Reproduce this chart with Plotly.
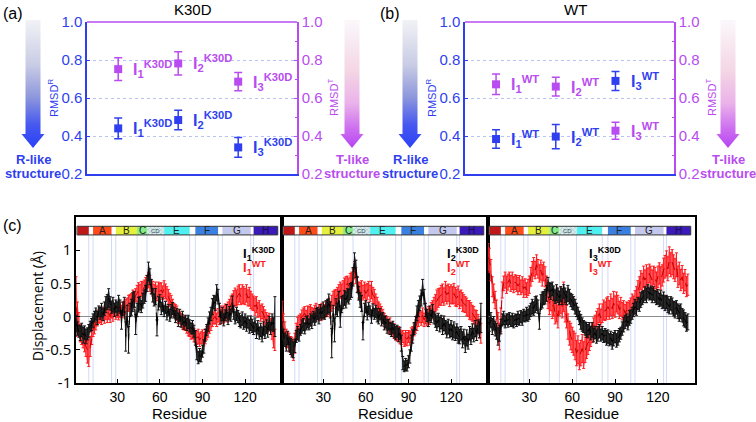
import plotly.graph_objects as go

W, H = 756, 422
def px(x): return x / W
def py(y): return 1 - y / H

BLUE = '#2f3ff0'
MAG = '#b94cf0'

# ---------------- top panels (a) K30D, (b) WT ----------------
state_pos = [1, 2, 3]
state_idx = ['1', '2', '3']
k30d_R = [0.440, 0.484, 0.340]
k30d_R_err = [0.055, 0.051, 0.052]
k30d_T = [0.752, 0.782, 0.686]
k30d_T_err = [0.060, 0.061, 0.048]
wt_R = [0.384, 0.397, 0.690]
wt_R_err = [0.049, 0.064, 0.050]
wt_T = [0.672, 0.660, 0.428]
wt_T_err = [0.054, 0.049, 0.045]
rmsd_ticks = [0.2, 0.4, 0.6, 0.8, 1.0]

# ---------------- bottom panels (c) ----------------
residues = list(range(1, 142))
disp_ticks = [-1, -0.5, 0, 0.5, 1]
res_ticks = [30, 60, 90, 120]

helix_names = ['', 'A', 'B', 'C', 'CD', 'E', 'F', 'G', 'H']
helix_start = [2, 13, 29, 44, 51, 63, 85, 104, 126]
helix_end = [10, 26, 44, 51, 63, 81, 101, 124, 143]
helix_colors = ['#c01818', '#ff4a1a', '#e4f03c', '#86ec86', '#d8eeee',
                '#50f0f0', '#3a80e0', '#c4c8ec', '#3a1ab8']

I1_K30D = [-0.10,-0.18,-0.22,-0.25,-0.20,-0.28,-0.24,-0.30,-0.26,-0.22,
 -0.15,-0.12,-0.06,0.00,0.04,-0.02,0.08,0.05,0.10,0.03,
 0.12,0.18,0.22,0.28,0.20,0.14,0.18,0.10,0.16,0.12,
 0.20,0.15,-0.05,0.12,0.18,-0.30,0.05,-0.35,0.10,0.14,
 0.22,0.26,-0.12,0.10,0.18,0.20,0.15,0.24,0.30,0.35,
 0.50,0.68,0.60,0.45,0.32,0.25,0.30,-0.17,0.20,0.24,
 0.12,0.18,0.08,0.14,0.05,0.10,0.02,0.08,0.12,0.06,
 0.00,0.04,-0.05,0.02,-0.08,-0.02,-0.10,-0.06,-0.12,-0.08,
 -0.14,-0.18,-0.16,-0.22,-0.32,-0.55,-0.62,-0.58,-0.60,-0.52,
 -0.45,-0.28,-0.20,-0.12,-0.02,0.04,0.15,0.22,0.20,0.36,
 0.30,0.10,-0.02,0.04,-0.05,0.02,0.08,-0.03,0.05,0.02,
 0.19,0.06,-0.02,0.04,0.00,-0.05,-0.08,-0.03,-0.10,-0.06,
 -0.12,-0.08,-0.15,-0.10,-0.14,-0.18,-0.12,-0.22,-0.16,-0.25,
 -0.20,-0.27,-0.18,-0.24,-0.15,-0.20,-0.10,-0.18,-0.08,-0.12,0.00]
I1_K30D_err = [0.12,0.10,0.09,0.11,0.10,0.12,0.10,0.11,0.09,0.10,
 0.08,0.09,0.10,0.08,0.09,0.10,0.08,0.09,0.10,0.09,
 0.10,0.12,0.11,0.14,0.10,0.09,0.11,0.10,0.09,0.10,
 0.12,0.10,0.14,0.10,0.11,0.22,0.12,0.20,0.10,0.12,
 0.14,0.12,0.15,0.10,0.11,0.10,0.09,0.11,0.10,0.12,
 0.12,0.14,0.12,0.11,0.10,0.09,0.12,0.12,0.10,0.09,
 0.09,0.10,0.08,0.09,0.10,0.08,0.09,0.10,0.09,0.08,
 0.09,0.08,0.10,0.09,0.08,0.10,0.09,0.08,0.09,0.10,
 0.09,0.08,0.10,0.09,0.11,0.10,0.09,0.10,0.08,0.09,
 0.10,0.09,0.08,0.10,0.09,0.10,0.12,0.10,0.11,0.12,
 0.11,0.10,0.09,0.10,0.09,0.08,0.10,0.09,0.10,0.09,
 0.12,0.10,0.09,0.10,0.09,0.10,0.09,0.10,0.09,0.10,
 0.10,0.09,0.10,0.11,0.10,0.09,0.10,0.11,0.10,0.09,
 0.10,0.11,0.10,0.09,0.10,0.11,0.10,0.09,0.12,0.10,0.30]
I1_WT = [0.15,0.00,-0.10,-0.25,-0.30,-0.35,-0.40,-0.45,-0.52,-0.55,
 -0.45,-0.30,-0.20,-0.15,-0.10,-0.05,0.00,0.02,-0.03,0.04,
 0.00,0.05,0.02,0.06,0.00,0.08,0.04,0.10,0.06,0.08,
 0.05,0.10,0.08,0.12,0.10,0.15,0.18,0.20,0.22,0.25,
 0.28,0.25,0.32,0.35,0.40,0.38,0.42,0.40,0.45,0.48,
 0.52,0.55,0.50,0.45,0.42,0.38,0.40,0.35,0.42,0.38,
 0.40,0.36,0.42,0.38,0.35,0.30,0.25,0.20,0.15,0.10,
 0.08,0.05,0.00,-0.02,-0.05,-0.08,-0.10,-0.12,-0.15,-0.18,
 -0.20,-0.25,-0.22,-0.28,-0.30,-0.32,-0.30,-0.35,-0.32,-0.30,
 -0.34,-0.30,-0.25,-0.22,-0.15,-0.10,-0.05,-0.02,0.00,-0.05,
 0.02,-0.03,0.05,0.00,0.04,0.08,0.05,0.10,0.15,0.18,
 0.22,0.25,0.30,0.28,0.32,0.35,0.30,0.34,0.32,0.30,
 0.35,0.28,0.30,0.25,0.22,0.20,0.15,0.18,0.10,0.12,
 0.05,0.08,0.02,-0.02,-0.05,-0.10,-0.08,-0.15,-0.20,-0.32,-0.35]
I1_WT_err = [0.45,0.22,0.16,0.13,0.12,0.12,0.13,0.15,0.18,0.20,
 0.15,0.12,0.10,0.11,0.10,0.09,0.10,0.11,0.09,0.10,
 0.10,0.09,0.11,0.10,0.09,0.10,0.11,0.09,0.10,0.09,
 0.10,0.11,0.09,0.10,0.12,0.11,0.10,0.12,0.11,0.10,
 0.12,0.11,0.10,0.12,0.11,0.10,0.11,0.12,0.10,0.11,
 0.10,0.11,0.12,0.10,0.11,0.10,0.12,0.11,0.10,0.12,
 0.11,0.10,0.12,0.11,0.10,0.11,0.10,0.12,0.11,0.10,
 0.10,0.11,0.10,0.09,0.10,0.11,0.10,0.09,0.10,0.11,
 0.10,0.09,0.11,0.10,0.09,0.10,0.11,0.10,0.09,0.10,
 0.10,0.11,0.10,0.09,0.10,0.11,0.10,0.09,0.11,0.10,
 0.10,0.09,0.11,0.10,0.12,0.11,0.13,0.12,0.11,0.13,
 0.12,0.14,0.13,0.12,0.14,0.13,0.12,0.14,0.13,0.12,
 0.13,0.12,0.14,0.13,0.12,0.11,0.13,0.12,0.11,0.12,
 0.12,0.11,0.13,0.12,0.11,0.12,0.13,0.12,0.14,0.15,0.16]

I2_K30D = [-0.20,-0.30,-0.35,-0.40,-0.32,-0.42,-0.45,-0.48,-0.50,-0.44,
 -0.30,-0.25,-0.28,-0.20,-0.15,-0.12,-0.18,-0.10,-0.08,-0.12,
 -0.05,-0.08,0.00,-0.04,0.02,0.05,0.00,0.08,0.04,0.10,
 0.06,0.12,0.15,0.20,0.10,-0.40,0.05,-0.20,0.15,0.10,
 0.24,0.00,0.18,0.22,0.28,0.25,0.32,0.30,0.38,0.40,
 0.60,0.84,0.72,0.48,0.35,0.25,0.20,-0.22,0.10,0.15,
 0.05,0.12,0.08,0.00,0.10,0.04,0.08,0.02,-0.02,0.04,
 -0.05,-0.02,-0.10,-0.08,-0.15,-0.12,-0.18,-0.20,-0.16,-0.22,
 -0.25,-0.22,-0.28,-0.25,-0.40,-0.70,-0.75,-0.72,-0.74,-0.68,
 -0.60,-0.40,-0.30,-0.18,-0.10,0.05,0.12,0.20,0.28,0.44,
 0.30,0.10,0.02,-0.05,0.05,0.00,0.08,-0.02,-0.06,-0.10,
 -0.05,-0.12,-0.08,-0.15,-0.10,-0.16,-0.20,-0.15,-0.22,-0.18,
 -0.24,-0.20,-0.26,-0.22,-0.28,-0.30,-0.25,-0.35,-0.30,-0.42,
 -0.32,-0.38,-0.25,-0.30,-0.22,-0.28,-0.18,-0.25,-0.15,-0.20,-0.02]
I2_K30D_err = [0.12,0.11,0.10,0.12,0.10,0.11,0.12,0.13,0.12,0.10,
 0.09,0.10,0.09,0.08,0.10,0.09,0.08,0.10,0.09,0.08,
 0.09,0.10,0.08,0.09,0.10,0.09,0.11,0.10,0.09,0.12,
 0.10,0.12,0.11,0.14,0.12,0.22,0.12,0.18,0.12,0.10,
 0.14,0.16,0.12,0.10,0.11,0.12,0.10,0.11,0.12,0.11,
 0.14,0.12,0.13,0.12,0.10,0.11,0.12,0.13,0.10,0.09,
 0.10,0.09,0.08,0.10,0.09,0.08,0.09,0.10,0.09,0.08,
 0.09,0.08,0.10,0.09,0.10,0.08,0.09,0.10,0.09,0.10,
 0.10,0.09,0.10,0.09,0.12,0.10,0.08,0.09,0.08,0.09,
 0.10,0.12,0.10,0.09,0.10,0.11,0.12,0.11,0.12,0.12,
 0.11,0.10,0.09,0.10,0.11,0.09,0.10,0.09,0.10,0.11,
 0.10,0.11,0.10,0.12,0.11,0.10,0.12,0.11,0.10,0.12,
 0.11,0.12,0.10,0.11,0.12,0.11,0.10,0.12,0.11,0.12,
 0.12,0.11,0.10,0.12,0.11,0.10,0.12,0.11,0.10,0.12,0.22]
I2_WT = [0.05,-0.10,-0.20,-0.30,-0.35,-0.38,-0.42,-0.45,-0.50,-0.40,
 -0.20,-0.12,-0.08,-0.05,0.00,0.02,0.05,0.00,0.06,0.04,
 0.08,0.05,0.02,0.06,0.10,0.04,0.08,0.05,0.10,0.06,
 0.08,0.12,0.10,0.15,0.12,0.20,0.25,0.28,0.30,0.32,
 0.35,0.40,0.38,0.42,0.45,0.48,0.50,0.46,0.52,0.55,
 0.60,0.70,0.62,0.48,0.40,0.38,0.42,0.36,0.40,0.35,
 0.38,0.42,0.35,0.40,0.32,0.30,0.22,0.18,0.12,0.08,
 0.05,0.00,-0.05,-0.08,-0.10,-0.15,-0.12,-0.18,-0.20,-0.22,
 -0.25,-0.28,-0.25,-0.30,-0.32,-0.30,-0.35,-0.32,-0.34,-0.30,
 -0.33,-0.28,-0.25,-0.20,-0.15,-0.10,-0.05,0.00,-0.03,0.02,
 -0.05,0.00,-0.02,0.04,0.00,0.08,0.12,0.15,0.20,0.25,
 0.28,0.30,0.32,0.35,0.30,0.38,0.33,0.36,0.30,0.34,
 0.32,0.35,0.30,0.28,0.32,0.25,0.28,0.22,0.20,0.18,
 0.15,0.12,0.10,0.08,0.05,0.02,-0.02,-0.05,-0.10,-0.18,-0.25]
I2_WT_err = [0.18,0.14,0.12,0.11,0.12,0.13,0.12,0.14,0.16,0.15,
 0.10,0.11,0.10,0.09,0.10,0.11,0.10,0.09,0.10,0.11,
 0.10,0.09,0.10,0.11,0.10,0.09,0.10,0.11,0.10,0.09,
 0.10,0.11,0.10,0.12,0.11,0.12,0.13,0.12,0.11,0.12,
 0.13,0.12,0.11,0.12,0.13,0.12,0.11,0.12,0.13,0.12,
 0.12,0.13,0.12,0.11,0.12,0.13,0.12,0.11,0.12,0.13,
 0.12,0.11,0.12,0.13,0.12,0.11,0.12,0.11,0.10,0.11,
 0.10,0.11,0.10,0.09,0.10,0.11,0.10,0.09,0.10,0.11,
 0.10,0.09,0.10,0.11,0.10,0.09,0.10,0.11,0.10,0.09,
 0.10,0.11,0.10,0.09,0.10,0.11,0.10,0.09,0.10,0.11,
 0.10,0.11,0.12,0.11,0.12,0.13,0.12,0.14,0.13,0.15,
 0.14,0.13,0.15,0.14,0.13,0.15,0.14,0.13,0.15,0.14,
 0.13,0.15,0.14,0.13,0.14,0.13,0.12,0.14,0.13,0.12,
 0.13,0.12,0.14,0.13,0.12,0.13,0.12,0.14,0.13,0.14,0.15]

I3_K30D = [-0.08,-0.12,-0.05,-0.15,-0.10,-0.18,-0.22,-0.30,-0.25,-0.15,
 -0.05,-0.02,-0.08,-0.04,-0.06,-0.03,-0.07,-0.05,-0.08,-0.04,
 -0.06,-0.02,-0.05,0.00,-0.03,0.02,0.00,0.04,0.02,0.06,
 0.10,0.15,0.12,0.18,0.20,0.15,-0.07,0.22,0.25,0.28,
 0.30,0.35,0.49,0.40,0.38,0.42,0.35,0.30,0.36,0.32,
 0.28,0.34,0.30,0.38,0.32,0.28,0.35,0.30,0.25,0.22,
 0.20,0.15,0.10,0.05,-0.02,-0.08,-0.12,-0.15,-0.18,-0.20,
 -0.22,-0.18,-0.25,-0.20,-0.28,-0.24,-0.30,-0.26,-0.22,-0.28,
 -0.25,-0.30,-0.28,-0.32,-0.30,-0.35,-0.32,-0.38,-0.34,-0.30,
 -0.36,-0.32,-0.28,-0.25,-0.18,-0.12,-0.08,-0.05,-0.10,-0.02,
 0.00,0.05,0.10,0.15,0.12,0.20,0.18,0.25,0.28,0.30,
 0.35,0.32,0.38,0.34,0.36,0.32,0.35,0.30,0.28,0.30,
 0.25,0.28,0.22,0.25,0.20,0.22,0.18,0.15,0.20,0.16,
 0.12,0.10,0.14,0.08,0.05,0.08,0.02,-0.02,-0.05,-0.10,-0.08]
I3_K30D_err = [0.12,0.10,0.11,0.12,0.10,0.11,0.12,0.13,0.12,0.11,
 0.09,0.10,0.09,0.08,0.10,0.09,0.08,0.10,0.09,0.08,
 0.09,0.10,0.08,0.09,0.10,0.09,0.08,0.10,0.09,0.10,
 0.10,0.11,0.10,0.12,0.11,0.10,0.12,0.11,0.12,0.10,
 0.11,0.12,0.10,0.11,0.12,0.10,0.11,0.10,0.12,0.11,
 0.10,0.11,0.12,0.10,0.11,0.10,0.12,0.11,0.10,0.11,
 0.10,0.11,0.10,0.09,0.10,0.11,0.10,0.09,0.10,0.11,
 0.10,0.09,0.10,0.11,0.10,0.09,0.10,0.11,0.10,0.09,
 0.10,0.09,0.10,0.11,0.10,0.09,0.10,0.11,0.10,0.09,
 0.10,0.11,0.10,0.09,0.10,0.11,0.10,0.09,0.10,0.11,
 0.10,0.09,0.10,0.11,0.10,0.09,0.10,0.11,0.10,0.09,
 0.10,0.11,0.10,0.09,0.10,0.11,0.10,0.09,0.10,0.11,
 0.10,0.11,0.10,0.12,0.11,0.10,0.12,0.11,0.10,0.12,
 0.11,0.12,0.10,0.11,0.12,0.11,0.10,0.12,0.11,0.12,0.12]
I3_WT = [0.90,0.85,0.70,0.45,0.35,0.25,0.10,-0.10,-0.30,-0.05,
 0.40,0.50,0.55,0.48,0.52,0.56,0.50,0.54,0.48,0.52,
 0.50,0.46,0.50,0.44,0.48,0.42,0.45,0.40,0.44,0.48,
 0.60,0.68,0.75,0.70,0.78,0.72,0.65,0.70,0.62,0.68,
 0.60,0.45,0.30,0.20,0.25,0.15,0.18,0.05,0.10,0.00,
 0.20,0.25,0.15,0.30,0.10,0.00,-0.15,-0.25,-0.30,-0.35,
 -0.40,-0.45,-0.55,-0.50,-0.60,-0.55,-0.48,-0.58,-0.50,-0.45,
 -0.40,-0.35,-0.30,-0.25,-0.15,-0.10,-0.05,0.00,0.05,-0.02,
 0.05,0.10,0.08,0.12,0.15,0.10,0.18,0.12,0.20,0.15,
 0.22,0.18,0.10,0.15,0.08,0.12,0.05,0.10,0.08,0.12,
 0.15,0.20,0.18,0.25,0.30,0.40,0.45,0.55,0.50,0.60,
 0.55,0.62,0.58,0.65,0.60,0.55,0.62,0.58,0.52,0.60,
 0.65,0.58,0.62,0.70,0.75,0.80,0.72,0.85,0.78,0.82,
 0.75,0.70,0.78,0.60,0.65,0.55,0.60,0.50,0.55,0.45,0.48]
I3_WT_err = [0.20,0.18,0.16,0.15,0.14,0.13,0.15,0.16,0.20,0.18,
 0.12,0.11,0.12,0.13,0.12,0.11,0.12,0.13,0.12,0.11,
 0.12,0.13,0.12,0.11,0.12,0.13,0.12,0.11,0.12,0.13,
 0.14,0.15,0.14,0.13,0.15,0.14,0.13,0.15,0.16,0.14,
 0.15,0.16,0.18,0.17,0.16,0.18,0.17,0.16,0.18,0.17,
 0.18,0.20,0.17,0.22,0.18,0.17,0.19,0.18,0.20,0.19,
 0.18,0.20,0.19,0.21,0.20,0.19,0.21,0.20,0.19,0.18,
 0.17,0.16,0.15,0.14,0.13,0.12,0.13,0.12,0.14,0.13,
 0.14,0.15,0.14,0.16,0.15,0.14,0.16,0.15,0.18,0.16,
 0.15,0.14,0.13,0.14,0.13,0.12,0.13,0.12,0.13,0.12,
 0.13,0.14,0.13,0.14,0.15,0.14,0.15,0.14,0.15,0.16,
 0.15,0.16,0.15,0.14,0.16,0.15,0.14,0.16,0.15,0.16,
 0.16,0.17,0.16,0.18,0.17,0.19,0.18,0.20,0.18,0.19,
 0.18,0.17,0.18,0.16,0.17,0.16,0.17,0.15,0.16,0.15,0.16]

bottom_series = [
    ('1', I1_K30D, I1_K30D_err, I1_WT, I1_WT_err),
    ('2', I2_K30D, I2_K30D_err, I2_WT, I2_WT_err),
    ('3', I3_K30D, I3_K30D_err, I3_WT, I3_WT_err),
]

# ---------------- figure ----------------
fig = go.Figure()
ann = []
shapes = []

TOPFONT = 'Liberation Sans'
BOTFONT = 'Open Sans'

def note(x, y, text, size, color, family=TOPFONT, xanchor='center', angle=0, xref='paper', yref='paper'):
    return dict(x=x, y=y, xref=xref, yref=yref, text=text, showarrow=False, xanchor=xanchor,
                yanchor='middle', textangle=angle, font=dict(family=family, size=size, color=color))

top_panels = [
    dict(xa='x', ya='y', ya2='y2', R=k30d_R, Re=k30d_R_err, T=k30d_T, Te=k30d_T_err,
         tag='K30D', dom=[px(87), px(297)], title='K30D', tx=193, letter='(a)', lx=1,
         arrL=33, arrR=352),
    dict(xa='x2', ya='y3', ya2='y4', R=wt_R, Re=wt_R_err, T=wt_T, Te=wt_T_err,
         tag='WT', dom=[px(465), px(674)], title='WT', tx=575, letter='(b)', lx=378,
         arrL=410, arrR=728),
]

layout_axes = {}
ydom_top = [py(174), py(22)]
for i, p in enumerate(top_panels):
    xname = 'xaxis' if p['xa'] == 'x' else 'xaxis' + p['xa'][1:]
    yname = 'yaxis' if p['ya'] == 'y' else 'yaxis' + p['ya'][1:]
    y2name = 'yaxis' + p['ya2'][1:]
    layout_axes[xname] = dict(domain=p['dom'], range=[0.48, 3.98], anchor=p['ya'],
                              showticklabels=False, ticks='', showgrid=False, zeroline=False,
                              showline=True, linecolor=BLUE, linewidth=1.5, automargin=False)
    layout_axes[yname] = dict(domain=ydom_top, range=[0.2, 1.0], anchor=p['xa'],
                              tickvals=rmsd_ticks, ticktext=['%.1f' % v for v in rmsd_ticks],
                              tickfont=dict(family=TOPFONT, size=15, color=BLUE),
                              showline=True, linecolor=BLUE, linewidth=1.5,
                              ticks='inside', ticklen=3, tickcolor=BLUE,
                              showgrid=True, gridcolor='#b9c3f2', griddash='dot', gridwidth=1,
                              zeroline=False, automargin=False)
    layout_axes[y2name] = dict(overlaying=p['ya'], side='right', range=[0.2, 1.0], anchor=p['xa'],
                               tickvals=rmsd_ticks, ticktext=['%.1f' % v for v in rmsd_ticks],
                               tickfont=dict(family=TOPFONT, size=15, color=MAG),
                               showline=True, linecolor=MAG, linewidth=1.5,
                               ticks='inside', ticklen=3, tickcolor=MAG,
                               minor=dict(ticks='inside', ticklen=2, tickcolor=MAG, dtick=0.1),
                               showgrid=False, zeroline=False, automargin=False)
    fig.add_trace(go.Scatter(x=state_pos, y=p['T'], xaxis=p['xa'], yaxis=p['ya2'], mode='markers',
                             marker=dict(symbol='square', size=8, color=MAG),
                             error_y=dict(type='data', array=p['Te'], color=MAG, thickness=1.5, width=4),
                             showlegend=False))
    fig.add_trace(go.Scatter(x=state_pos, y=p['R'], xaxis=p['xa'], yaxis=p['ya'], mode='markers',
                             marker=dict(symbol='square', size=8, color=BLUE),
                             error_y=dict(type='data', array=p['Re'], color=BLUE, thickness=1.5, width=4),
                             showlegend=False))
    for xs, idx, v in zip(state_pos, state_idx, p['T']):
        ann.append(note(xs + 0.22, v, '<b>I<sub>%s</sub><sup>%s</sup></b>' % (idx, p['tag']), 16, MAG,
                        xanchor='left', xref=p['xa'], yref=p['ya2']))
    for xs, idx, v in zip(state_pos, state_idx, p['R']):
        ann.append(note(xs + 0.22, v, '<b>I<sub>%s</sub><sup>%s</sup></b>' % (idx, p['tag']), 16, BLUE,
                        xanchor='left', xref=p['xa'], yref=p['ya']))
    shapes.append(dict(type='line', xref=p['xa'] + ' domain', yref=p['ya'] + ' domain',
                       x0=0, x1=1, y0=1, y1=1, line=dict(color=MAG, width=1.5)))
    ann.append(note(px(p['tx']), py(9), p['title'], 15, 'black'))
    ann.append(note(px(p['lx']), py(13), p['letter'], 16, 'black', xanchor='left'))
    dx = 0 if i == 0 else 378
    ann.append(note(px(53 + dx), py(98), 'RMSD<sup>R</sup>', 11, BLUE, angle=-90))
    ann.append(note(px(333 + dx), py(98), 'RMSD<sup>T</sup>', 11, MAG, angle=-90))
    for cx, word_col, word in [(p['arrL'], BLUE, 'R-like'), (p['arrR'], MAG, 'T-like')]:
        ann.append(note(px(cx), py(160), '<b>%s</b>' % word, 13, word_col))
        ann.append(note(px(cx), py(173), '<b>structure</b>', 13, word_col))

# ---------------- bottom panels ----------------
bot_doms = [[px(76), px(282)], [px(282), px(488)], [px(488), px(695)]]
ydom_bot = [py(383), py(217)]
bot_axes = [('x3', 'y5'), ('x4', 'y6'), ('x5', 'y7')]
legend_x = [0.80, 0.79, 0.48]
for k, ((idx, kv, ke, wv, we), (xa, ya), dom) in enumerate(zip(bottom_series, bot_axes, bot_doms)):
    layout_axes['xaxis' + xa[1:]] = dict(domain=dom, range=[1, 146], anchor=ya,
                                         tickvals=res_ticks, ticks='inside', ticklen=4, tickcolor='black',
                                         tickfont=dict(family=TOPFONT, size=14, color='black'),
                                         showline=True, linecolor='black', linewidth=1.5, mirror=True,
                                         showgrid=False, zeroline=False, automargin=False)
    layout_axes['yaxis' + ya[1:]] = dict(domain=ydom_bot, range=[-1, 1.5], anchor=xa,
                                         tickvals=disp_ticks, ticktext=['-1', '-0.5', '0', '0.5', '1'],
                                         showticklabels=(k == 0), ticks='inside' if k == 0 else '',
                                         ticklen=4, tickcolor='black',
                                         tickfont=dict(family=BOTFONT, size=15, color='black'),
                                         showline=True, linecolor='black', linewidth=1.5, mirror=True,
                                         showgrid=False, zeroline=True, zerolinecolor='#8c8c8c',
                                         zerolinewidth=1, automargin=False)
    n = len(kv)
    rx = residues[:n]
    for b in sorted(set(helix_start[1:] + helix_end[:-1])):
        shapes.append(dict(type='line', xref=xa, yref=ya, x0=b, x1=b, y0=-1, y1=1.23, layer='below',
                           line=dict(color='#d3daf5', width=1)))
    for vals, errs, fillc, linec, errc in [
        (wv, we, 'rgba(255,70,95,0.62)', '#c00000', '#ff1a1a'),
        (kv, ke, 'rgba(48,48,48,0.9)', '#000000', '#111111')]:
        up = [v + e for v, e in zip(vals, errs)]
        lo = [v - e for v, e in zip(vals, errs)]
        fig.add_trace(go.Scatter(x=rx + rx[::-1], y=up + lo[::-1], xaxis=xa, yaxis=ya, mode='lines',
                                 fill='toself', fillcolor=fillc, line=dict(width=0), hoverinfo='skip',
                                 showlegend=False))
        fig.add_trace(go.Scatter(x=rx, y=vals, xaxis=xa, yaxis=ya, mode='lines',
                                 line=dict(color=linec, width=1, dash='dash'),
                                 error_y=dict(type='data', array=errs, color=errc, thickness=1, width=1.5),
                                 showlegend=False))
    shapes.append(dict(type='rect', xref=xa, yref=ya, x0=helix_start[0] - 0.3, x1=helix_end[-1],
                       y0=1.23, y1=1.36, fillcolor='white', line=dict(width=0), layer='below'))
    for name, s, e, c in zip(helix_names, helix_start, helix_end, helix_colors):
        if name == 'CD':
            fig.add_trace(go.Scatter(x=[s, e, e, s, s], y=[1.23, 1.23, 1.36, 1.36, 1.23], xaxis=xa, yaxis=ya,
                                     mode='lines', fill='toself', fillcolor=c, line=dict(width=0),
                                     fillpattern=dict(shape='x', size=3, solidity=0.4, fgcolor='#7fa0a8',
                                                      bgcolor=c),
                                     hoverinfo='skip', showlegend=False))
            ann.append(note((s + e) / 2, 1.295, 'CD', 6, '#445', xref=xa, yref=ya))
        else:
            shapes.append(dict(type='rect', xref=xa, yref=ya, x0=s, x1=e, y0=1.23, y1=1.36,
                               fillcolor=c, line=dict(width=0), layer='below'))
            if name:
                ann.append(note((s + e) / 2, 1.29, name, 10,
                                '#1a1050' if name == 'H' else '#222222', xref=xa, yref=ya))
    shapes.append(dict(type='rect', xref=xa, yref=ya, x0=helix_start[0] - 0.3, x1=helix_end[-1],
                       y0=1.23, y1=1.36, fillcolor='rgba(0,0,0,0)', line=dict(color='#333', width=1),
                       layer='above'))
    ann.append(note(legend_x[k], 0.78, '<b>I<sub>%s</sub><sup>K30D</sup></b>' % idx, 13, 'black',
                    xanchor='left', xref=xa + ' domain', yref=ya + ' domain'))
    ann.append(note(legend_x[k], 0.69, '<b>I<sub>%s</sub><sup>WT</sup></b>' % idx, 13, '#ff1a1a',
                    xanchor='left', xref=xa + ' domain', yref=ya + ' domain'))
    ann.append(note((dom[0] + dom[1]) / 2, py(413), 'Residue', 15, 'black', family=TOPFONT))

ann.append(note(px(37), py(306), 'Displacement (Å)', 14, 'black', family=BOTFONT, angle=-90))
ann.append(note(px(1), py(225), '(c)', 16, 'black', xanchor='left'))

# ---------------- gradient arrows (decorative, pixel overlay axes) ----------------
layout_axes['xaxis6'] = dict(domain=[0, 1], range=[0, W], anchor='y8', visible=False, fixedrange=True,
                             automargin=False)
layout_axes['yaxis8'] = dict(domain=[0, 1], range=[H, 0], anchor='x6', visible=False, fixedrange=True,
                             automargin=False)

def arrow_poly(cx, top=20, neck=134, tip=148, sw=7.5, hw=11.5):
    xs = [cx - sw, cx + sw, cx + sw, cx + hw, cx, cx - hw, cx - sw, cx - sw]
    ys = [top, top, neck, neck, tip, neck, neck, top]
    return xs, ys

blue_scale = [[0, '#f1f2f6'], [0.35, '#c9cce4'], [0.6, '#8e98dc'], [0.82, '#4658f0'], [1, '#2b42f6']]
mag_scale = [[0, '#fbf8fb'], [0.4, '#f4d6e4'], [0.65, '#eab2ea'], [0.85, '#cd6ef0'], [1, '#b545f2']]
for p in top_panels:
    for cx, sc in [(p['arrL'], blue_scale), (p['arrR'], mag_scale)]:
        xs, ys = arrow_poly(cx)
        fig.add_trace(go.Scatter(x=xs, y=ys, xaxis='x6', yaxis='y8', mode='lines', line=dict(width=0),
                                 fill='toself',
                                 fillgradient=dict(type='vertical', colorscale=sc, start=20, stop=148),
                                 hoverinfo='skip', showlegend=False))

fig.update_layout(width=W, height=H, autosize=False,
                  margin=dict(l=0, r=0, t=0, b=0, pad=0, autoexpand=False),
                  paper_bgcolor='white', plot_bgcolor='rgba(0,0,0,0)',
                  annotations=ann, shapes=shapes, showlegend=False, **layout_axes)

fix_page = ("document.documentElement.style.margin='0';document.body.style.margin='0';"
            "document.body.style.padding='0';document.body.style.overflow='hidden';"
            "var gd=document.getElementById('{plot_id}');gd.style.width='756px';gd.style.height='422px';"
            "Plotly.relayout(gd,{autosize:false,width:756,height:422});")
fig.write_html("out.html", config={'responsive': False, 'displayModeBar': False}, post_script=fix_page)
